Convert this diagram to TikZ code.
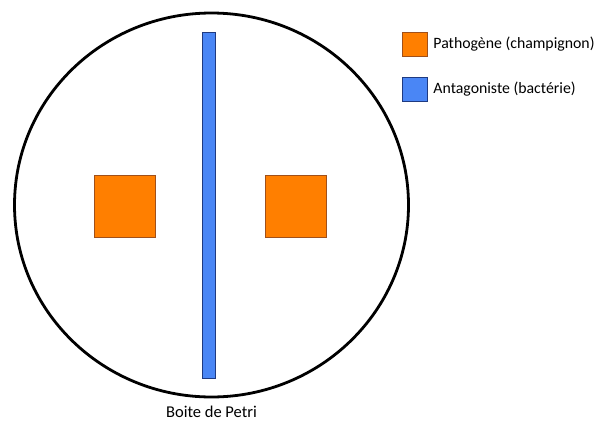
\documentclass[tikz,border=0pt]{standalone}
\usepackage{fontspec}
\setmainfont{Carlito}
\usetikzlibrary{positioning,shapes.geometric}
\definecolor{ptOrange}{HTML}{FF7F00}
\definecolor{ptOrangeD}{HTML}{A0501A}
\definecolor{ptBlue}{HTML}{4A86F5}
\definecolor{ptBlueD}{HTML}{1F3A80}
\tikzset{
  pt-box/.style={draw, line width=0.5pt, inner sep=0pt},
  pt-orange/.style={pt-box, draw=ptOrangeD, fill=ptOrange},
  pt-blue/.style={pt-box, draw=ptBlueD, fill=ptBlue},
  pt-label/.style={font=\fontsize{15.8}{18}\selectfont, inner sep=0pt, anchor=west}
}
\begin{document}
\begin{tikzpicture}[x=1pt, y=-1pt,
  patho/.style={pt-orange, minimum width=61pt, minimum height=62pt},
  leg/.style={pt-box, minimum width=25pt, minimum height=24pt}
]
\useasboundingbox (0,0) rectangle (595,421);
% boite
\node[ellipse, draw, line width=2.8pt, minimum width=394pt, minimum height=384pt]
  (boite) at (211.5,205) {};
\node[font=\fontsize{16.5}{18}\selectfont, inner sep=0pt, below=7pt of boite] (nom) {Boite de Petri};
% bacterie et champignons
\node[pt-blue, minimum width=13pt, minimum height=346pt] (bact) at (208.5,205) {};
\node[patho] (pg) at (124.5,206) {};
\node[patho] (pd) at (296,206) {};
% legende
\node[leg, pt-orange] (lo) at (414.5,44) {};
\node[pt-label, right=6pt of lo] (to) {Pathogène (champignon)};
\node[leg, pt-blue, below=21pt of lo] (lb) {};
\node[pt-label, right=6pt of lb] (tb) {Antagoniste (bactérie)};
\end{tikzpicture}
\end{document}
